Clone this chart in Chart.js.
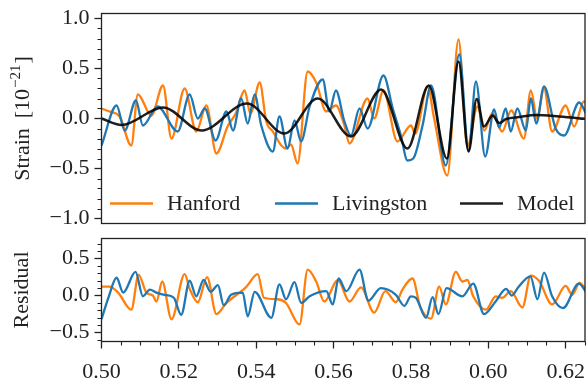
<!DOCTYPE html>
<html>
<head>
<meta charset="utf-8">
<script src="https://cdn.jsdelivr.net/npm/chart.js@4.4.1/dist/chart.umd.min.js"></script>
<style>
  html, body { margin: 0; padding: 0; background: #fff; }
  #wrap { position: relative; width: 588px; height: 381px; }
  #strainChart { position: absolute; left: 0; top: 0; }
  #residualChart { position: absolute; left: 0; top: 232px; }
</style>
</head>
<body>
<div id="wrap">
  <canvas id="strainChart" width="588" height="232"></canvas>
  <canvas id="residualChart" width="588" height="149"></canvas>
</div>
<script>
// ---- data (time in s, strain in 1e-21) ----
const hanfordT = [0.5000,0.5021,0.5047,0.5077,0.5094,0.5129,0.5159,0.5181,0.5215,0.5245,0.5271,0.5297,0.5326,0.5347,0.5370,0.5385,0.5409,0.5426,0.5443,0.5465,0.5477,0.5490,0.5507,0.5533,0.5555,0.5581,0.5606,0.5628,0.5641,0.5688,0.5705,0.5729,0.5765,0.5800,0.5811,0.5843,0.5860,0.5894,0.5923,0.5946,0.5972,0.5990,0.6010,0.6036,0.6059,0.6092,0.6110,0.6126,0.6144,0.6165,0.6200,0.6222,0.6247,0.6255];
const hanfordStrain = [0.10,0.07,0.02,-0.27,0.24,0.03,0.33,-0.20,0.30,-0.13,0.13,-0.35,-0.08,0.05,0.28,0.05,0.36,-0.03,-0.13,-0.27,-0.30,-0.26,-0.45,0.47,0.36,0.07,0.13,-0.07,-0.25,0.20,0.00,0.28,-0.23,-0.07,-0.15,0.32,0.00,-0.57,0.79,-0.28,0.12,-0.12,0.05,-0.13,0.08,-0.20,0.28,0.00,0.30,-0.13,0.13,-0.08,0.17,0.15];

const livingstonT = [0.5000,0.5039,0.5060,0.5089,0.5107,0.5145,0.5197,0.5228,0.5249,0.5267,0.5295,0.5323,0.5340,0.5361,0.5378,0.5396,0.5413,0.5443,0.5460,0.5481,0.5499,0.5516,0.5538,0.5572,0.5589,0.5606,0.5628,0.5645,0.5667,0.5688,0.5729,0.5753,0.5774,0.5791,0.5806,0.5830,0.5852,0.5890,0.5925,0.5949,0.5968,0.5992,0.6015,0.6028,0.6045,0.6058,0.6075,0.6097,0.6110,0.6124,0.6144,0.6174,0.6196,0.6235,0.6255];
const livingstonStrain = [-0.27,0.13,-0.12,0.18,-0.07,0.12,-0.13,0.24,0.00,0.10,-0.22,0.07,-0.12,0.20,-0.05,0.24,-0.07,-0.33,0.02,-0.30,-0.02,-0.23,0.12,0.39,0.07,0.28,-0.03,-0.17,0.10,-0.10,0.43,0.10,-0.17,-0.42,-0.40,-0.07,0.33,-0.47,0.64,-0.32,0.37,-0.38,0.09,-0.09,0.10,-0.13,0.10,-0.12,0.20,-0.05,0.32,-0.10,-0.17,0.16,0.03];

const modelT = [0.5000,0.5052,0.5159,0.5259,0.5376,0.5473,0.5559,0.5645,0.5723,0.5791,0.5846,0.5893,0.5923,0.5949,0.5970,0.5989,0.6011,0.6028,0.6046,0.6080,0.6124,0.6184,0.6255];
const modelStrain = [0.00,-0.065,0.11,-0.12,0.15,-0.15,0.20,-0.18,0.29,-0.30,0.33,-0.40,0.57,-0.33,0.195,-0.08,0.03,-0.045,-0.005,0.015,0.035,0.02,-0.005];

const hanfordResT = [0.5000,0.5021,0.5043,0.5077,0.5096,0.5116,0.5133,0.5142,0.5157,0.5181,0.5215,0.5228,0.5249,0.5273,0.5297,0.5323,0.5373,0.5404,0.5420,0.5455,0.5477,0.5512,0.5533,0.5555,0.5576,0.5611,0.5641,0.5671,0.5705,0.5734,0.5761,0.5778,0.5804,0.5824,0.5852,0.5873,0.5890,0.5916,0.5933,0.5946,0.5961,0.5994,0.6019,0.6036,0.6058,0.6088,0.6110,0.6131,0.6165,0.6200,0.6217,0.6236,0.6255];
const hanfordRes = [0.12,0.12,0.04,-0.19,0.28,0.04,0.00,-0.08,0.19,-0.32,0.29,0.09,-0.09,0.25,-0.25,-0.10,0.11,0.29,-0.03,-0.05,-0.10,-0.39,0.35,0.19,-0.08,0.21,-0.08,0.11,-0.23,0.06,-0.09,0.08,0.23,-0.15,-0.31,0.12,-0.12,0.32,0.19,0.21,-0.01,-0.19,-0.01,-0.03,0.06,-0.16,0.27,0.20,-0.12,0.13,0.01,0.17,0.06];

const livingstonResT = [0.5000,0.5019,0.5039,0.5056,0.5088,0.5107,0.5125,0.5142,0.5163,0.5187,0.5206,0.5228,0.5245,0.5264,0.5282,0.5301,0.5316,0.5335,0.5365,0.5378,0.5396,0.5439,0.5460,0.5477,0.5499,0.5516,0.5538,0.5581,0.5598,0.5613,0.5633,0.5667,0.5690,0.5722,0.5761,0.5783,0.5800,0.5813,0.5839,0.5856,0.5871,0.5892,0.5933,0.5961,0.5989,0.6019,0.6046,0.6061,0.6077,0.6109,0.6127,0.6144,0.6165,0.6193,0.6234,0.6255];
const livingstonRes = [-0.32,-0.01,0.24,0.04,0.32,-0.01,0.08,0.04,0.01,-0.03,-0.26,0.20,-0.01,0.21,0.05,0.14,-0.13,0.01,0.04,-0.28,0.05,-0.30,0.15,-0.05,0.18,-0.10,-0.01,0.06,-0.12,0.23,0.06,0.35,-0.07,0.10,0.01,-0.14,-0.01,-0.03,-0.30,-0.02,-0.25,0.10,-0.01,0.16,-0.25,-0.08,0.09,0.00,0.11,0.26,-0.05,0.31,-0.01,-0.17,0.16,0.03];

// tick labels
const timeTicks = [0.50, 0.52, 0.54, 0.56, 0.58, 0.60, 0.62];
const strainTicks = [-1.0, -0.5, 0.0, 0.5, 1.0];
const residualTicks = [-0.5, 0.0, 0.5];

// ---- styling ----
const serif = "'Liberation Serif', 'Times New Roman', serif";
const ink = '#222';
const orange = '#ff7f0e';
const blue = '#1f77b4';
const black = 'rgba(0,0,0,0.88)';
const fs = 22;

function pts(t, v) { return t.map((x, i) => ({ x: x, y: v[i] })); }
function series(label, t, v, color, width, order) {
  return {
    label: label, data: pts(t, v), borderColor: color, backgroundColor: color,
    borderWidth: width, pointRadius: 0, fill: false, order: order,
    cubicInterpolationMode: 'monotone'
  };
}
function signed(v, d) { return (v < 0 ? '\u2212' : '') + Math.abs(v).toFixed(d); }
function steps(lo, hi, step, skip) {
  const out = [];
  for (let k = Math.ceil(lo / step - 1e-9); k * step <= hi + 1e-9; k++) {
    const v = +(k * step).toFixed(4);
    if (Math.abs(v / skip - Math.round(v / skip)) > 1e-6) out.push(v);
  }
  return out;
}

const xRange = { min: 0.5, max: 0.625 };
const strainRange = { min: -1.05, max: 1.05 };
const residualRange = { min: -0.62, max: 0.77 };

function yScale(range, ticks, width) {
  return {
    min: range.min, max: range.max,
    afterBuildTicks: s => { s.ticks = ticks.map(v => ({ value: v })); },
    afterFit: s => { s.width = width; s.paddingTop = 0; s.paddingBottom = 0; },
    ticks: { font: { family: serif, size: fs }, color: ink, padding: 5, callback: v => signed(v, 1) },
    grid: { drawOnChartArea: false, drawTicks: true, tickLength: 7, tickColor: ink, tickWidth: 1.3 },
    border: { display: false }
  };
}

// frame, minor ticks and rotated axis title
function decor(opts) {
  return {
    id: 'decor',
    afterDraw(chart) {
      const { ctx, chartArea: a, scales } = chart;
      ctx.save();
      ctx.strokeStyle = ink;
      ctx.lineWidth = 1.3;
      ctx.strokeRect(a.left, a.top, a.right - a.left, a.bottom - a.top);
      ctx.beginPath();
      opts.yMinor.forEach(v => {
        const p = Math.round(scales.y.getPixelForValue(v)) + 0.5;
        ctx.moveTo(a.left, p); ctx.lineTo(a.left - 4, p);
      });
      (opts.xMinor || []).forEach(v => {
        const p = Math.round(scales.x.getPixelForValue(v)) + 0.5;
        ctx.moveTo(p, a.bottom); ctx.lineTo(p, a.bottom + 4);
      });
      ctx.lineWidth = 1.1;
      ctx.stroke();

      // y title, rotated
      ctx.fillStyle = ink;
      ctx.textBaseline = 'alphabetic';
      ctx.translate(opts.titleX, (a.top + a.bottom) / 2 + opts.titleShift);
      ctx.rotate(-Math.PI / 2);
      const main = `${fs}px ${serif}`, small = `${Math.round(fs * 0.7)}px ${serif}`;
      ctx.font = main;
      const w1 = ctx.measureText(opts.title).width;
      let w2 = 0, w3 = 0;
      if (opts.sup) {
        ctx.font = small; w2 = ctx.measureText(opts.sup).width;
        ctx.font = main; w3 = ctx.measureText(opts.tail).width;
      }
      let x = -(w1 + w2 + w3) / 2;
      ctx.font = main; ctx.fillText(opts.title, x, 0); x += w1;
      if (opts.sup) {
        ctx.font = small; ctx.fillText(opts.sup, x + 1, -9); x += w2 + 2;
        ctx.font = main; ctx.fillText(opts.tail, x, 0);
      }
      ctx.restore();
    }
  };
}

// legend drawn inside the strain panel
const legendX = [110, 275, 460];
const legendInside = {
  id: 'legendInside',
  afterDraw(chart) {
    const { ctx, chartArea: a } = chart;
    const y = a.bottom - 20;
    const items = chart.data.datasets.slice().sort((p, q) => q.order - p.order);
    ctx.save();
    ctx.font = `${fs}px ${serif}`;
    ctx.textBaseline = 'middle';
    items.forEach((ds, i) => {
      ctx.strokeStyle = ds.borderColor;
      ctx.lineWidth = 2.4;
      ctx.beginPath();
      ctx.moveTo(legendX[i], y); ctx.lineTo(legendX[i] + 43, y);
      ctx.stroke();
      ctx.fillStyle = ink;
      ctx.fillText(ds.label, legendX[i] + 57, y + 1);
    });
    ctx.restore();
  }
};

new Chart(document.getElementById('strainChart'), {
  type: 'line',
  data: {
    datasets: [
      series('Hanford', hanfordT, hanfordStrain, orange, 2.3, 3),
      series('Livingston', livingstonT, livingstonStrain, blue, 2.3, 2),
      series('Model', modelT, modelStrain, black, 2.5, 1)
    ]
  },
  options: {
    responsive: false,
    animation: false,
    layout: { padding: { left: 0, right: 3, top: 13.5, bottom: 8.5 } },
    plugins: { legend: { display: false }, tooltip: { enabled: false } },
    scales: {
      x: { type: 'linear', min: xRange.min, max: xRange.max, display: false },
      y: yScale(strainRange, strainTicks, 101.5)
    }
  },
  plugins: [
    decor({ yMinor: steps(-1.0, 1.0, 0.1, 0.5), title: 'Strain\u2009 [10', sup: '\u221221', tail: ']', titleX: 29, titleShift: 1 }),
    legendInside
  ]
});

new Chart(document.getElementById('residualChart'), {
  type: 'line',
  data: {
    datasets: [
      series('Hanford', hanfordResT, hanfordRes, orange, 2.3, 2),
      series('Livingston', livingstonResT, livingstonRes, blue, 2.3, 1)
    ]
  },
  options: {
    responsive: false,
    animation: false,
    layout: { padding: { left: 0, right: 3, top: 6.5, bottom: 0 } },
    plugins: { legend: { display: false }, tooltip: { enabled: false } },
    scales: {
      x: {
        type: 'linear', min: xRange.min, max: xRange.max,
        afterBuildTicks: s => { s.ticks = timeTicks.map(v => ({ value: v })); },
        afterFit: s => { s.height = 39.5; s.paddingLeft = 0; s.paddingRight = 0; },
        ticks: { font: { family: serif, size: fs }, color: ink, padding: 11, maxRotation: 0, callback: v => v.toFixed(2) },
        grid: { drawOnChartArea: false, drawTicks: true, tickLength: 7, tickColor: ink, tickWidth: 1.3 },
        border: { display: false }
      },
      y: yScale(residualRange, residualTicks, 101.5)
    }
  },
  plugins: [
    decor({ yMinor: steps(-0.6, 0.7, 0.1, 0.5), xMinor: steps(0.5, 0.625, 0.005, 0.02), title: 'Residual', titleX: 28, titleShift: 0 })
  ]
});
</script>
</body>
</html>
